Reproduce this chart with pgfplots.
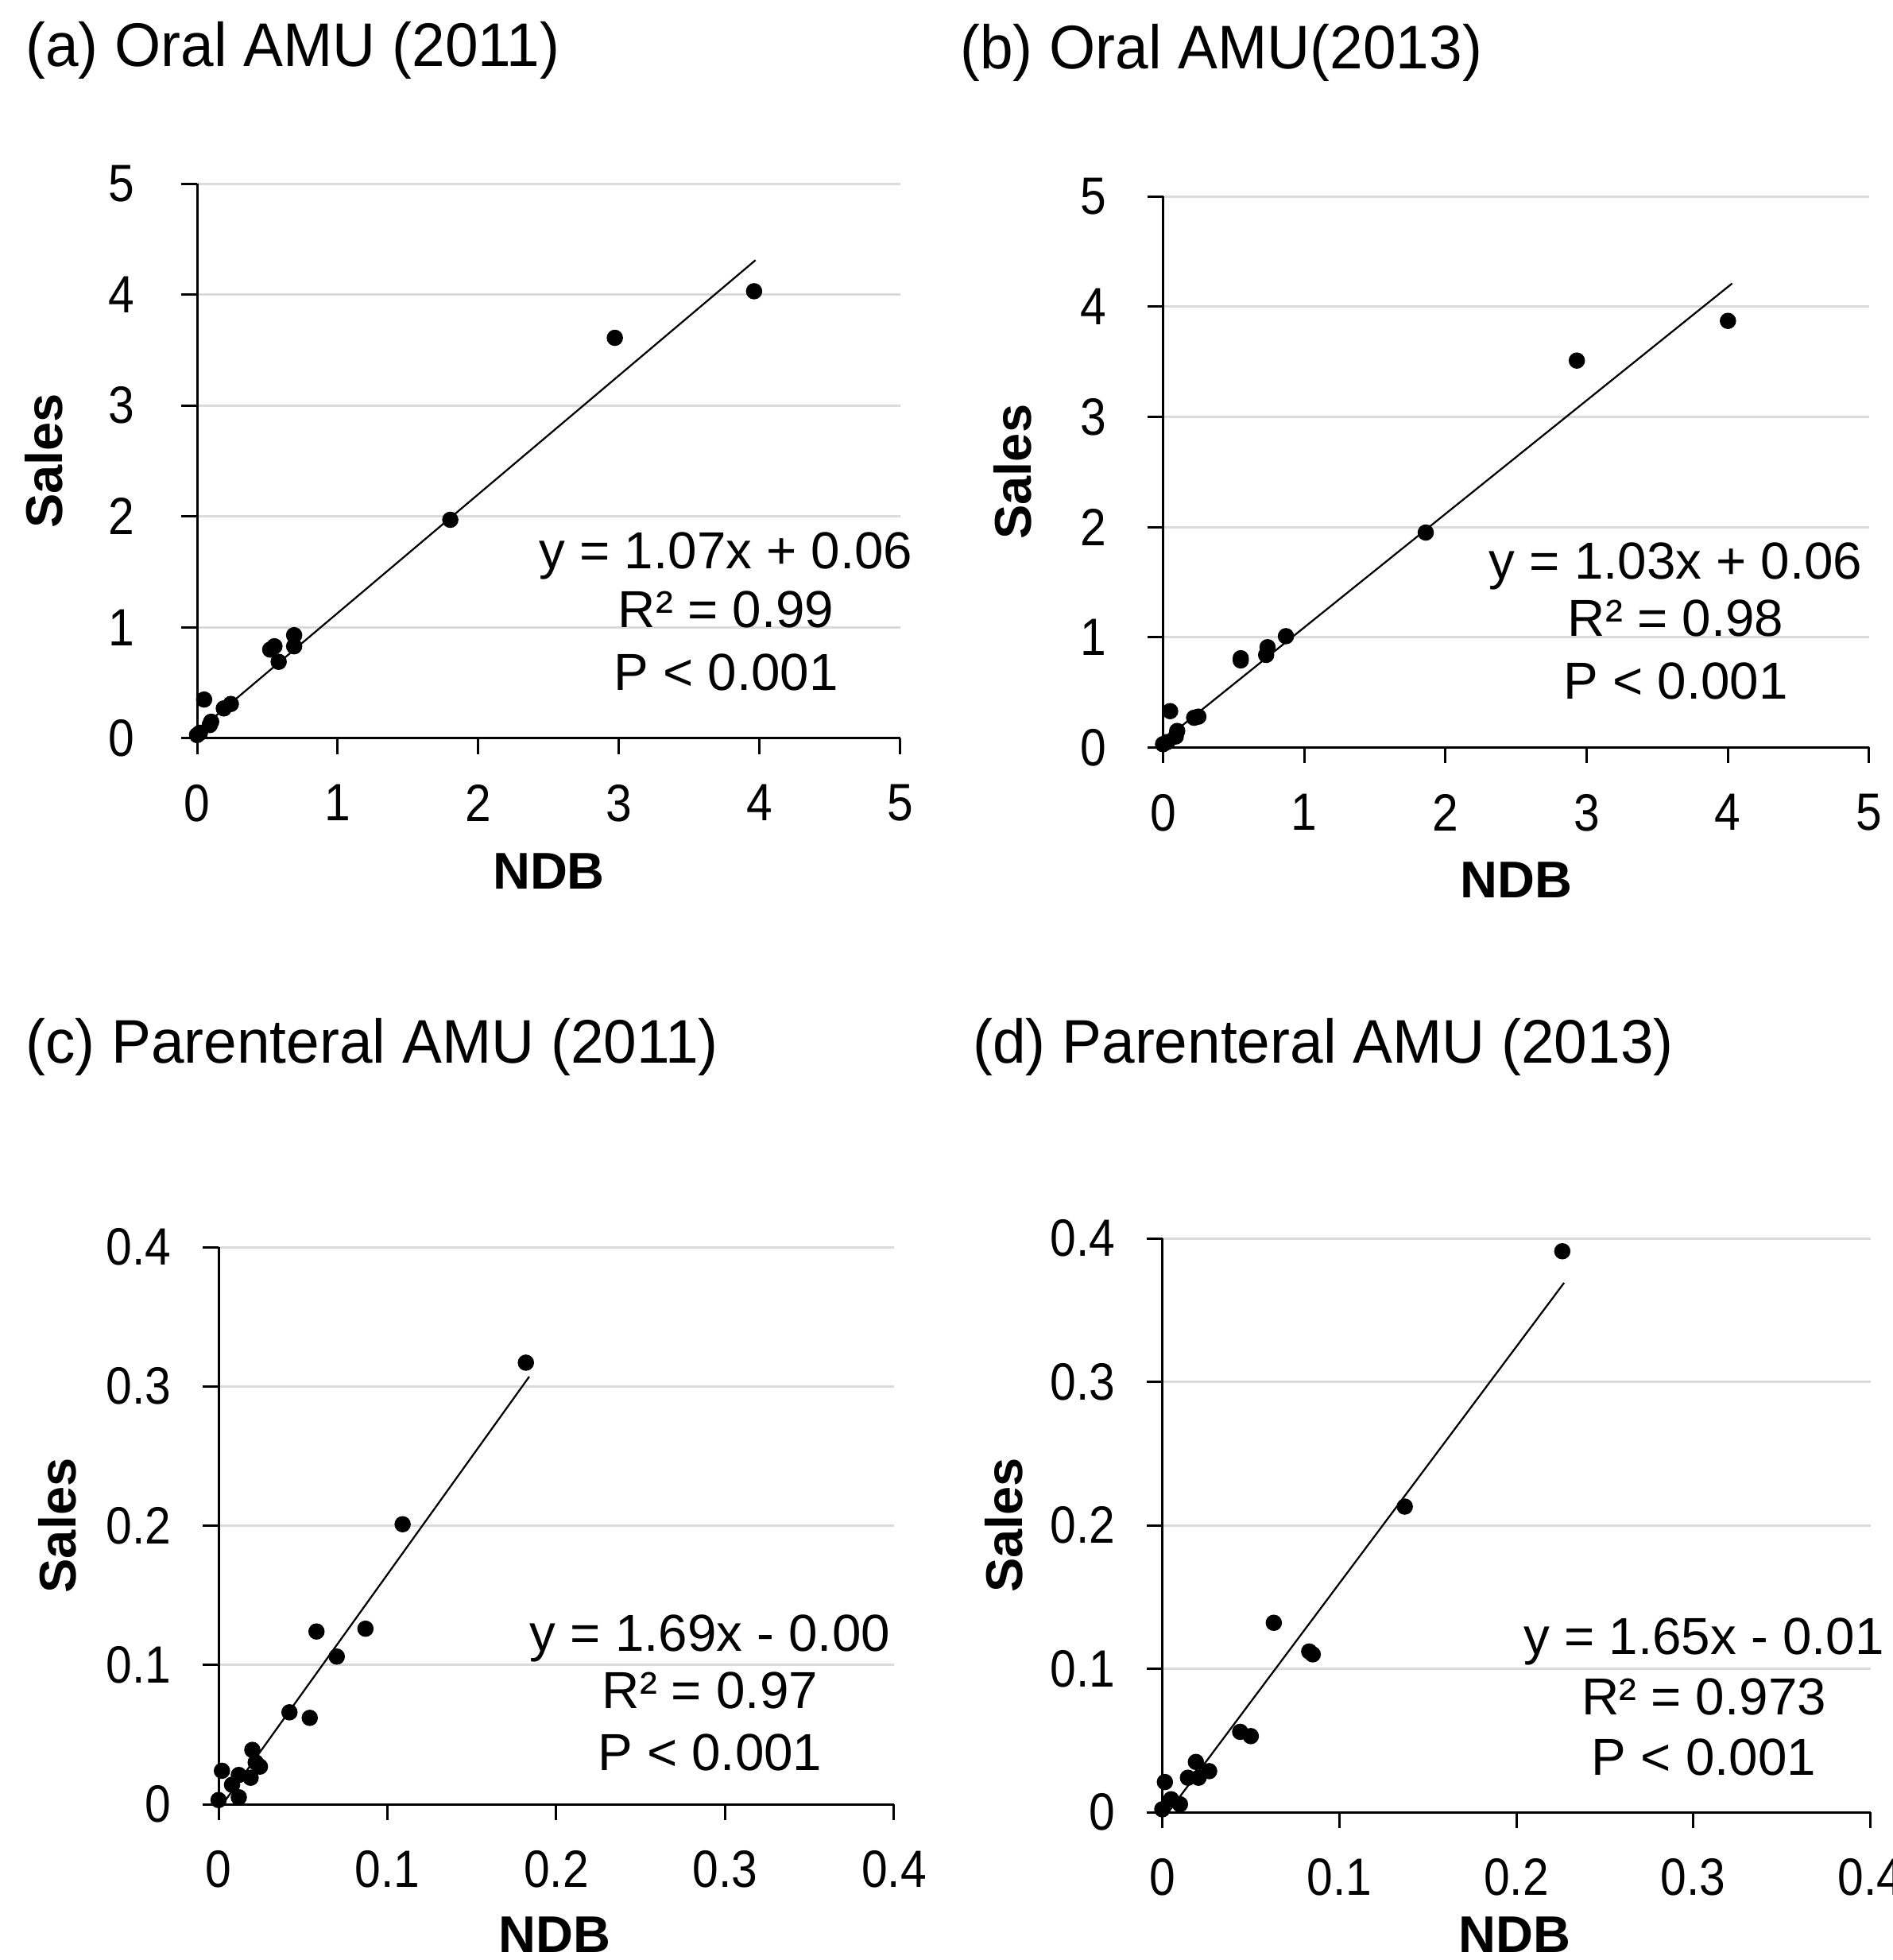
\documentclass[border=0pt]{standalone}
\usepackage{fontspec}
\setmainfont{Liberation Sans}
\newfontfamily\tickfam[FakeStretch=0.89]{Liberation Sans}
\newfontfamily\titlefam[FakeStretch=0.965]{Liberation Sans}
\usepackage{pgfplots}
\pgfplotsset{compat=1.18}

\newcommand{\titlefont}{\titlefam\fontsize{15.5}{18}\selectfont}
\newcommand{\eqfont}{\fontsize{13.1}{15}\selectfont}

\pgfplotsset{
  panel/.style={
    scale only axis,
    axis x line=bottom, axis y line=left,
    axis line style={-, black, line width=0.6pt},
    tick align=outside, major tick length=4pt,
    tick style={black, line width=0.6pt},
    ymajorgrids, grid style={gray!28, line width=0.6pt},
    clip=false,
    /pgf/number format/assume math mode=true,
    ticklabel style={font=\tickfam\fontsize{13.2}{15}\selectfont, inner sep=0pt},
    xticklabel style={anchor=north, yshift=-7.5pt},
    xlabel=NDB, ylabel=Sales,
    label style={font=\fontsize{13}{15}\selectfont\bfseries, anchor=center},
  },
  pts/.style={only marks, mark=*, mark size=1.85pt, black},
  fit/.style={black, line width=0.45pt, no marks},
}

\begin{document}
\begin{tikzpicture}
\useasboundingbox (0,0) rectangle (476.4pt,493.2pt);

% (a) oral 2011
\begin{axis}[panel, at={(49.6pt,307.4pt)}, anchor=south west,
  width=177pt, height=139.6pt,
  xmin=0, xmax=5, ymin=0, ymax=5,
  xtick={0,1,2,3,4,5}, ytick={0,1,2,3,4,5},
  yticklabel style={anchor=east, xshift=-11.6pt},
  xlabel style={at={(axis description cs:0.50,-0.24)}},
  ylabel style={at={(axis description cs:-0.218,0.5)}}]
\addplot[fit] coordinates {(0,0.06) (3.97,4.31)};
\addplot[pts] coordinates {
  (0.00,0.03) (0.02,0.05) (0.05,0.35) (0.09,0.12) (0.10,0.15)
  (0.19,0.27) (0.24,0.31) (0.52,0.80) (0.55,0.83) (0.58,0.69)
  (0.69,0.83) (0.69,0.93) (1.80,1.97) (2.97,3.61) (3.96,4.03)
};
\node[anchor=base, font=\eqfont] at (axis cs:3.76,1.53) {y = 1.07x + 0.06};
\node[anchor=base, font=\eqfont] at (axis cs:3.76,1.00) {R² = 0.99};
\node[anchor=base, font=\eqfont] at (axis cs:3.76,0.43) {P < 0.001};
\end{axis}

% (b) oral 2013
\begin{axis}[panel, at={(292.7pt,305.1pt)}, anchor=south west,
  width=177.7pt, height=138.7pt,
  xmin=0, xmax=5, ymin=0, ymax=5,
  xtick={0,1,2,3,4,5}, ytick={0,1,2,3,4,5},
  yticklabel style={anchor=east, xshift=-10pt},
  xlabel style={at={(axis description cs:0.5,-0.24)}},
  ylabel style={at={(axis description cs:-0.213,0.5)}}]
\addplot[fit] coordinates {(0,0.06) (4.03,4.21)};
\addplot[pts] coordinates {
  (0.00,0.03) (0.03,0.05) (0.05,0.33) (0.09,0.10) (0.10,0.15)
  (0.22,0.27) (0.25,0.28) (0.55,0.79) (0.55,0.81) (0.73,0.84)
  (0.74,0.91) (0.87,1.01) (1.86,1.95) (2.93,3.51) (4.00,3.87)
};
\node[anchor=base, font=\eqfont] at (axis cs:3.63,1.53) {y = 1.03x + 0.06};
\node[anchor=base, font=\eqfont] at (axis cs:3.63,1.01) {R² = 0.98};
\node[anchor=base, font=\eqfont] at (axis cs:3.63,0.44) {P < 0.001};
\end{axis}

% (c) parenteral 2011
\begin{axis}[panel, at={(55pt,39.2pt)}, anchor=south west,
  width=170pt, height=140.2pt,
  xmin=0, xmax=0.4, ymin=0, ymax=0.4,
  xtick={0,0.1,0.2,0.3,0.4}, ytick={0,0.1,0.2,0.3,0.4},
  yticklabel style={anchor=east, xshift=-7.7pt},
  xlabel style={at={(axis description cs:0.498,-0.234)}},
  ylabel style={at={(axis description cs:-0.239,0.5)}}]
\addplot[fit] coordinates {(0.003,0.001) (0.184,0.307)};
\addplot[pts] coordinates {
  (0.000,0.003) (0.002,0.024) (0.008,0.014) (0.012,0.021) (0.012,0.005)
  (0.019,0.019) (0.020,0.039) (0.022,0.030) (0.0245,0.027) (0.042,0.066)
  (0.054,0.062) (0.058,0.124) (0.070,0.106) (0.087,0.126) (0.109,0.201)
  (0.182,0.317)
};
\node[anchor=base, font=\eqfont] at (axis cs:0.291,0.110) {y = 1.69x - 0.00};
\node[anchor=base, font=\eqfont] at (axis cs:0.291,0.069) {R² = 0.97};
\node[anchor=base, font=\eqfont] at (axis cs:0.291,0.024) {P < 0.001};
\end{axis}

% (d) parenteral 2013
\begin{axis}[panel, at={(292.5pt,37.2pt)}, anchor=south west,
  width=178.2pt, height=144.4pt,
  xmin=0, xmax=0.4, ymin=0, ymax=0.4,
  xtick={0,0.1,0.2,0.3,0.4}, ytick={0,0.1,0.2,0.3,0.4},
  yticklabel style={anchor=east, xshift=-7.7pt},
  xlabel style={at={(axis description cs:0.498,-0.213)}},
  ylabel style={at={(axis description cs:-0.224,0.5)}}]
\addplot[fit] coordinates {(0.004,0.001) (0.227,0.369)};
\addplot[pts] coordinates {
  (0.000,0.002) (0.0015,0.021) (0.005,0.009) (0.010,0.0055) (0.0145,0.024)
  (0.019,0.035) (0.0205,0.024) (0.0265,0.0286) (0.044,0.056) (0.050,0.053)
  (0.063,0.132) (0.083,0.112) (0.085,0.110) (0.137,0.213) (0.226,0.391)
};
\node[anchor=base, font=\eqfont] at (axis cs:0.306,0.110) {y = 1.65x - 0.01};
\node[anchor=base, font=\eqfont] at (axis cs:0.306,0.068) {R² = 0.973};
\node[anchor=base, font=\eqfont] at (axis cs:0.306,0.026) {P < 0.001};
\end{axis}

\node[anchor=base west, inner sep=0pt, font=\titlefont] at (6.3pt,476.4pt) {(a) Oral AMU (2011)};
\node[anchor=base west, inner sep=0pt, font=\titlefont] at (241.5pt,475.8pt) {(b) Oral AMU(2013)};
\node[anchor=base west, inner sep=0pt, font=\titlefont] at (6.3pt,225.6pt) {(c) Parenteral AMU (2011)};
\node[anchor=base west, inner sep=0pt, font=\titlefont] at (244.7pt,225.6pt) {(d) Parenteral AMU (2013)};
\end{tikzpicture}
\end{document}
